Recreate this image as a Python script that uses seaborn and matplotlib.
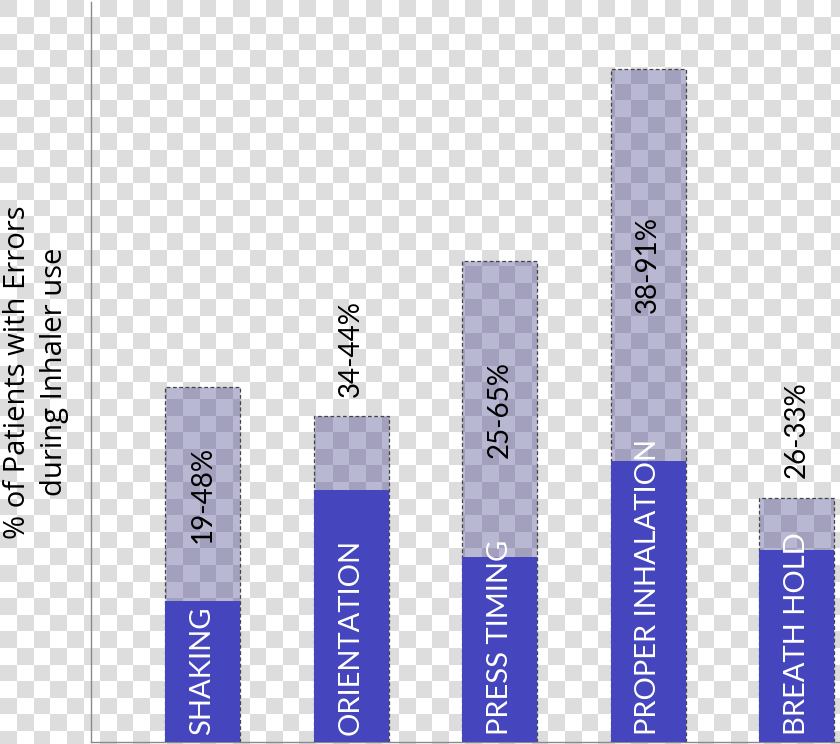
import numpy as np
import pandas as pd
import seaborn as sns
from matplotlib import pyplot as plt
from matplotlib.colors import ListedColormap

# error rates (% of patients)
categories = ['SHAKING', 'ORIENTATION', 'PRESS TIMING', 'PROPER INHALATION', 'BREATH HOLD']
low = [19, 34, 25, 38, 26]
high = [48, 44, 65, 91, 33]
range_labels = ['19-48%', '34-44%', '25-65%', '38-91%', '26-33%']

df = pd.DataFrame({'category': categories, 'low': low, 'high': high, 'label': range_labels})

sns.set_style('white')
plt.rcParams['font.family'] = ['Lato', 'DejaVu Sans']

solid = '#4545bd'
shade = (0.12, 0.10, 0.45, 0.31)

fig = plt.figure(figsize=(8.4, 7.44), dpi=100, facecolor='white')

# checkerboard backdrop (transparent png look)
bg = fig.add_axes([0, 0, 1, 1], zorder=-1)
cell = 16.6
rows = (np.arange(744) // cell).astype(int)
cols = (np.arange(840) // cell).astype(int)
checker = (rows[:, None] + cols[None, :]) % 2
bg.imshow(checker, cmap=ListedColormap(['#dddddd', '#ffffff']), aspect='auto',
          interpolation='nearest', extent=(0, 1, 0, 1))
bg.axis('off')

ax = fig.add_axes([91 / 840, 2 / 744, 749 / 840, 740 / 744])
ax.set_facecolor('none')

sns.barplot(data=df, x='category', y='high', order=categories, width=0.505, ax=ax)
for p in ax.patches:
    p.set_facecolor(shade)
    p.set_edgecolor('#444444')
    p.set_linestyle((0, (3, 2)))
    p.set_linewidth(0.9)
n_outline = len(ax.patches)

sns.barplot(data=df, x='category', y='low', order=categories, width=0.505, ax=ax)
for p in ax.patches[n_outline:]:
    p.set_facecolor(solid)
    p.set_edgecolor('none')
    p.set_zorder(3)

# outline dashes stay on top of the solid part
for p in ax.patches[:n_outline]:
    p.set_zorder(2)

for i, row in df.iterrows():
    ax.annotate(row['category'], (i, 0), xytext=(0, 5), textcoords='offset points',
                rotation=90, ha='center', va='bottom', color='white', fontsize=21, zorder=5)
    if row['high'] - row['low'] > 15:
        ax.text(i, (row['low'] + row['high']) / 2, row['label'], rotation=90,
                ha='center', va='center', color='black', fontsize=20, zorder=5)
    else:
        ax.annotate(row['label'], (i, row['high']), xytext=(0, 14), textcoords='offset points',
                    rotation=90, ha='center', va='bottom', color='black', fontsize=20, zorder=5)

ax.set_xlim(-0.75, 4.29)
ax.set_ylim(0, 100)
ax.set_xlabel('')
ax.set_ylabel('')
ax.set_xticks([])
ax.set_yticks([])
sns.despine(ax=ax, top=True, right=True)
for side in ['left', 'bottom']:
    ax.spines[side].set_color('#8a8a8a')
    ax.spines[side].set_linewidth(1.0)

fig.text(36 / 840, 0.5, '% of Patients with Errors\nduring Inhaler use', rotation=90,
         ha='center', va='center', fontsize=21, linespacing=1.4,
         family=['Open Sans', 'DejaVu Sans'], color='black')

fig.savefig('out.png', dpi=100, facecolor=fig.get_facecolor())
